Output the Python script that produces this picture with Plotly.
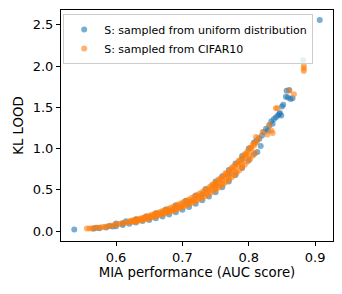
import plotly.graph_objects as go

# Series 1: S sampled from uniform distribution (blue)
uniform_x = [0.537,
             0.566, 0.575, 0.585, 0.595,
             0.600, 0.610, 0.620, 0.630, 0.640, 0.650, 0.660, 0.670, 0.680, 0.690, 0.700, 0.710, 0.720, 0.730,
             0.740, 0.750, 0.760, 0.770, 0.780, 0.790, 0.800, 0.808,
             0.600, 0.615, 0.630, 0.645, 0.660, 0.675, 0.690, 0.705, 0.720, 0.735, 0.750, 0.760, 0.770, 0.780,
             0.790, 0.800, 0.808,
             0.570, 0.590, 0.610, 0.630, 0.650, 0.670, 0.690, 0.710, 0.730, 0.750, 0.770, 0.790,
             0.812, 0.816, 0.820, 0.823, 0.826, 0.829, 0.831, 0.834, 0.836, 0.838, 0.841, 0.844, 0.846, 0.847,
             0.849, 0.850, 0.852, 0.856, 0.857, 0.859, 0.861, 0.863, 0.866, 0.882, 0.907, 0.813, 0.818]
uniform_y = [0.020,
             0.027, 0.034, 0.044, 0.055,
             0.060, 0.073, 0.088, 0.104, 0.121, 0.135, 0.155, 0.176, 0.200, 0.227, 0.260, 0.293, 0.333, 0.375,
             0.420, 0.472, 0.532, 0.602, 0.680, 0.765, 0.860, 0.935,
             0.092, 0.120, 0.145, 0.178, 0.217, 0.262, 0.312, 0.368, 0.432, 0.510, 0.600, 0.665, 0.740, 0.820,
             0.910, 1.000, 1.075,
             0.040, 0.062, 0.096, 0.130, 0.168, 0.218, 0.280, 0.355, 0.445, 0.555, 0.690, 0.870,
             1.100, 1.120, 1.160, 1.200, 1.240, 1.220, 1.280, 1.330, 1.300, 1.360, 1.380, 1.400, 1.420, 1.430,
             1.400, 1.510, 1.530, 1.630, 1.700, 1.620, 1.710, 1.600, 1.610, 2.070, 2.560, 0.960, 1.030]

# Series 2: S sampled from CIFAR10 (orange)
cifar_x = [0.556, 0.560, 0.564, 0.568, 0.572, 0.576, 0.580, 0.584, 0.588, 0.592, 0.596, 0.600, 0.604, 0.608,
           0.612, 0.616, 0.620, 0.624, 0.628, 0.632, 0.636, 0.640, 0.644, 0.648, 0.652, 0.656, 0.660, 0.664,
           0.668, 0.672, 0.676, 0.680, 0.684, 0.688, 0.692, 0.696, 0.700, 0.704, 0.708, 0.712, 0.716, 0.720,
           0.724, 0.728, 0.732, 0.736, 0.740, 0.744, 0.748, 0.752, 0.756, 0.760, 0.764, 0.768, 0.772, 0.776,
           0.780, 0.784, 0.788, 0.792, 0.796, 0.800, 0.804, 0.808, 0.812,
           0.622, 0.630, 0.638, 0.646, 0.654, 0.662, 0.670, 0.678, 0.686, 0.694, 0.702, 0.710, 0.718, 0.726,
           0.734, 0.742, 0.750, 0.758, 0.766, 0.774, 0.782, 0.790, 0.798, 0.806,
           0.626, 0.634, 0.642, 0.650, 0.658, 0.666, 0.674, 0.682, 0.690, 0.698, 0.706, 0.714, 0.722, 0.730,
           0.738, 0.746, 0.754, 0.762, 0.770, 0.778, 0.786, 0.794, 0.802, 0.810,
           0.626, 0.634, 0.642, 0.650, 0.658, 0.666, 0.674, 0.682, 0.690, 0.698, 0.706, 0.714, 0.722, 0.730,
           0.738, 0.746, 0.754, 0.762, 0.770, 0.778, 0.786, 0.794, 0.802, 0.810,
           0.630, 0.638, 0.646, 0.654, 0.662, 0.670, 0.678, 0.686, 0.694, 0.702, 0.710, 0.718, 0.726, 0.734,
           0.742, 0.750, 0.758, 0.766, 0.774, 0.782, 0.790, 0.798, 0.806,
           0.745, 0.755, 0.765, 0.775, 0.785, 0.795, 0.803,
           0.750, 0.760, 0.770, 0.780, 0.790, 0.800,
           0.811, 0.815, 0.821, 0.828, 0.831, 0.834, 0.836, 0.841, 0.843, 0.861, 0.868, 0.883, 0.883, 0.883]
cifar_y = [0.030, 0.032, 0.035, 0.038, 0.041, 0.045, 0.049, 0.053, 0.058, 0.064, 0.070, 0.080, 0.085, 0.091,
           0.098, 0.104, 0.112, 0.118, 0.126, 0.133, 0.141, 0.150, 0.158, 0.166, 0.175, 0.184, 0.194, 0.203,
           0.213, 0.224, 0.235, 0.246, 0.258, 0.270, 0.284, 0.298, 0.315, 0.328, 0.343, 0.360, 0.377, 0.394,
           0.412, 0.430, 0.450, 0.470, 0.492, 0.515, 0.540, 0.565, 0.590, 0.617, 0.645, 0.674, 0.705, 0.737,
           0.770, 0.805, 0.842, 0.880, 0.920, 0.960, 1.000, 1.040, 1.080,
           0.125, 0.140, 0.157, 0.176, 0.197, 0.220, 0.243, 0.268, 0.295, 0.323, 0.352, 0.383, 0.418, 0.455,
           0.495, 0.540, 0.590, 0.640, 0.697, 0.755, 0.820, 0.890, 0.965, 1.050,
           0.130, 0.147, 0.165, 0.185, 0.207, 0.230, 0.255, 0.280, 0.308, 0.337, 0.367, 0.400, 0.436, 0.475,
           0.517, 0.565, 0.615, 0.668, 0.726, 0.787, 0.855, 0.927, 1.007, 1.070,
           0.110, 0.125, 0.140, 0.157, 0.176, 0.195, 0.215, 0.237, 0.260, 0.285, 0.312, 0.340, 0.372, 0.405,
           0.442, 0.482, 0.525, 0.572, 0.622, 0.678, 0.738, 0.805, 0.875, 0.950,
           0.117, 0.132, 0.148, 0.166, 0.185, 0.205, 0.226, 0.248, 0.272, 0.298, 0.326, 0.356, 0.388, 0.423,
           0.462, 0.503, 0.548, 0.597, 0.650, 0.708, 0.771, 0.840, 0.912,
           0.560, 0.625, 0.700, 0.775, 0.850, 0.935, 1.010,
           0.515, 0.575, 0.645, 0.715, 0.800, 0.895,
           1.140, 1.130, 1.200, 1.170, 1.290, 1.220, 1.190, 1.490, 1.490, 1.700, 1.660, 2.000, 1.970, 1.940]

x_ticks = [0.6, 0.7, 0.8, 0.9]
y_ticks = [0.0, 0.5, 1.0, 1.5, 2.0, 2.5]

fig = go.Figure()
fig.add_trace(go.Scatter(x=uniform_x, y=uniform_y, mode="markers",
                         name="S: sampled from uniform distribution",
                         marker=dict(color="#1f77b4", size=6, opacity=0.6, line=dict(width=0))))
fig.add_trace(go.Scatter(x=cifar_x, y=cifar_y, mode="markers",
                         name="S: sampled from CIFAR10",
                         marker=dict(color="#ff7f0e", size=6, opacity=0.6, line=dict(width=0))))

axis_common = dict(showgrid=False, zeroline=False, showline=True, linecolor="black", linewidth=1,
                   mirror=True, ticks="outside", ticklen=4, tickcolor="black",
                   tickfont=dict(size=13, color="black"))
# page body has an 8px default margin, so the figure is 8px smaller and offset
fig.update_layout(
    width=334, height=286,
    margin=dict(l=53, r=9, t=2, b=53),
    paper_bgcolor="white", plot_bgcolor="white",
    font=dict(family="DejaVu Sans", color="black"),
    xaxis=dict(range=[0.517, 0.927], tickvals=x_ticks, ticktext=[f"{v:.1f}" for v in x_ticks],
               title=dict(text="MIA performance (AUC score)", font=dict(size=13.3), standoff=4),
               **axis_common),
    yaxis=dict(range=[-0.12, 2.68], tickvals=y_ticks, ticktext=[f"{v:.1f}" for v in y_ticks],
               title=dict(text="KL LOOD", font=dict(size=13.3), standoff=6),
               **axis_common),
    legend=dict(x=0.008, y=0.983, xanchor="left", yanchor="top",
                bgcolor="rgba(255,255,255,0.8)", bordercolor="#cccccc", borderwidth=1,
                font=dict(size=11), itemsizing="trace", tracegroupgap=0),
    showlegend=True,
)

fig.write_html("out.html")
